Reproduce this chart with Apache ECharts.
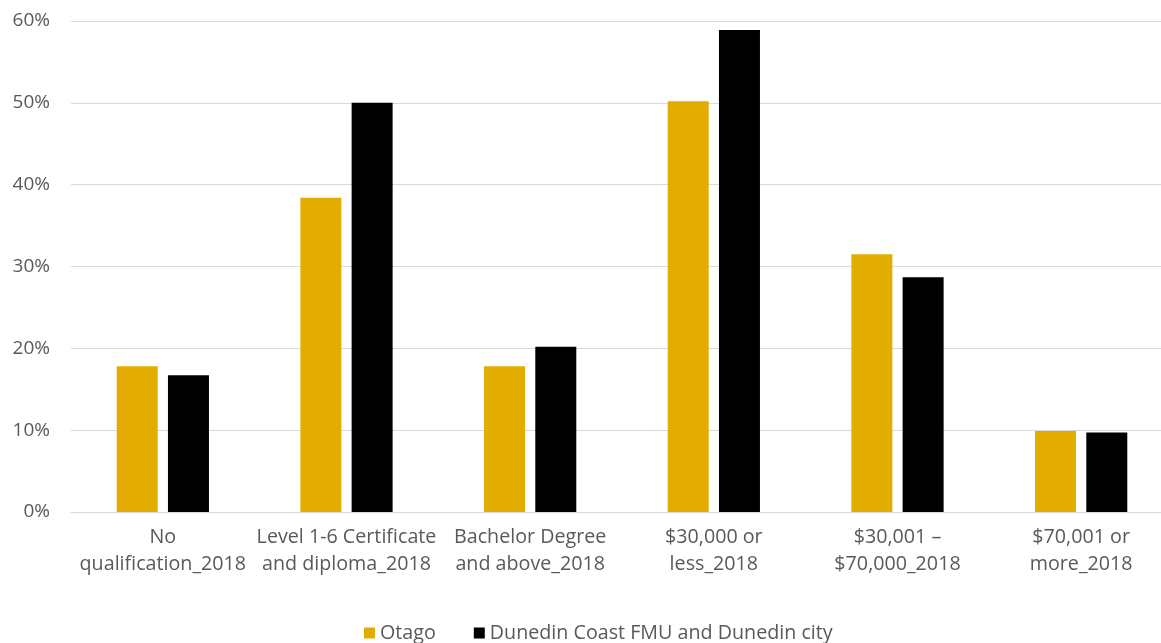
<!DOCTYPE html>
<html><head><meta charset="utf-8">
<script src="https://cdn.jsdelivr.net/npm/echarts@6/dist/echarts.min.js"></script>
<style>html,body{margin:0;padding:0;background:#fff}#c{width:1161px;height:643px}</style>
</head><body><div id="c"></div>
<script>
const categories = ["No\nqualification_2018","Level 1-6 Certificate\nand diploma_2018","Bachelor Degree\nand above_2018","$30,000 or\nless_2018","$30,001 \u2013\n$70,000_2018","$70,001 or\nmore_2018"];
const otago = [17.8, 38.4, 17.8, 50.2, 31.5, 9.9];
const dunedin = [16.7, 50.0, 20.2, 58.9, 28.7, 9.7];
const yTicks = {min: 0, max: 60, interval: 10};
const chart = echarts.init(document.getElementById('c'));
const font = "'Open Sans', 'Noto Sans', sans-serif";
chart.setOption({
  animation: false,
  textStyle: {fontFamily: font},
  grid: {left: 71, width: 1102, top: 21, bottom: 131, outerBoundsMode: 'none', containLabel: false},
  legend: {
    top: 618, left: 359, itemWidth: 11, itemHeight: 11, itemGap: 38,
    icon: 'rect',
    textStyle: {color: '#595959', fontSize: 19.7, fontFamily: font},
    data: ['Otago', 'Dunedin Coast FMU and Dunedin city']
  },
  xAxis: {
    type: 'category', data: categories,
    axisLine: {lineStyle: {color: '#d9d9d9'}},
    axisTick: {show: false},
    axisLabel: {color: '#595959', fontSize: 19.7, lineHeight: 27, margin: 12, interval: 0, fontFamily: font}
  },
  yAxis: {
    type: 'value', min: yTicks.min, max: yTicks.max, interval: yTicks.interval,
    axisLabel: {formatter: '{value}%', color: '#595959', fontSize: 19, margin: 21, fontFamily: font},
    splitLine: {lineStyle: {color: '#d9d9d9'}},
    axisLine: {show: false}, axisTick: {show: false}
  },
  series: [
    {name: 'Otago', type: 'bar', data: otago, barWidth: 41, barGap: '25%', itemStyle: {color: '#E2AC00'}},
    {name: 'Dunedin Coast FMU and Dunedin city', type: 'bar', data: dunedin, barWidth: 41, itemStyle: {color: '#000000'}}
  ]
});
</script></body></html>
